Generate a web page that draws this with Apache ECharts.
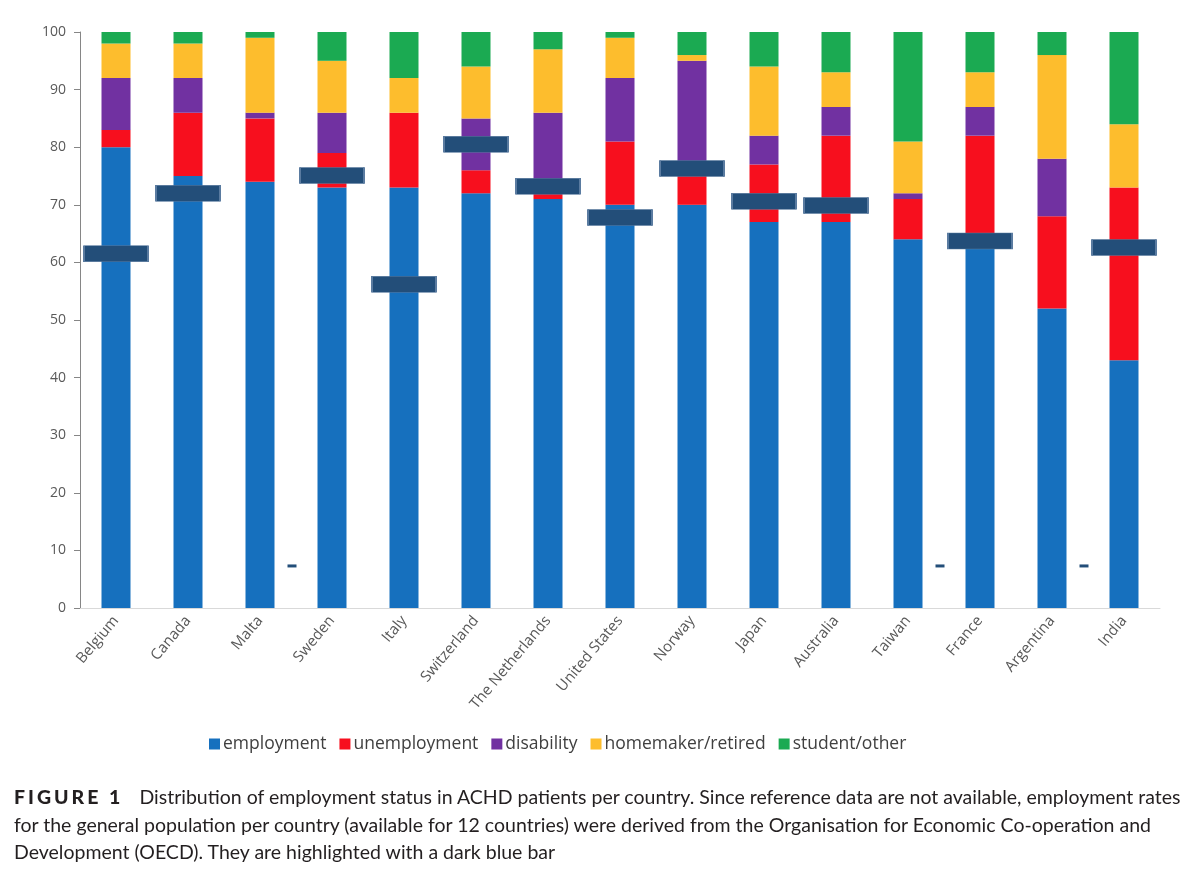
<!DOCTYPE html>
<html>
<head>
<meta charset="utf-8">
<script src="https://cdn.jsdelivr.net/npm/echarts@6/dist/echarts.min.js"></script>
<style>
html,body{margin:0;padding:0;background:#fff;}
#chart{width:1200px;height:876px;position:absolute;left:0;top:0;}
#cap{position:absolute;left:14px;top:783px;width:1186px;font-family:Lato,"Open Sans",sans-serif;font-size:19.5px;line-height:27.5px;color:#231f20;white-space:nowrap;}
#cap b{letter-spacing:3px;margin-right:16px;font-weight:900;}
</style>
</head>
<body>
<div id="chart"></div>
<div id="cap"><b>FIGURE 1</b>Distribution of employment status in ACHD patients per country. Since reference data are not available, employment rates<br>for the general population per country (available for 12 countries) were derived from the Organisation for Economic Co-operation and<br>Development (OECD). They are highlighted with a dark blue bar</div>
<script>
var countries = ['Belgium','Canada','Malta','Sweden','Italy','Switzerland','The Netherlands','United States','Norway','Japan','Australia','Taiwan','France','Argentina','India'];
var employment   = [80, 75, 74, 73, 73, 72, 71, 70, 70, 67, 67, 64, 63, 52, 43];
var unemployment = [ 3, 11, 11,  6, 13,  4,  1, 11,  5, 10, 15,  7, 19, 16, 30];
var disability   = [ 9,  6,  1,  7,  0,  9, 14, 11, 20,  5,  5,  1,  5, 10,  0];
var homemaker    = [ 6,  6, 13,  9,  6,  9, 11,  7,  1, 12,  6,  9,  6, 18, 11];
var student      = [ 2,  2,  1,  5,  8,  6,  3,  1,  4,  6,  7, 19,  7,  4, 16];
// OECD general-population employment rate (null = not available)
var oecd = [61.5, 72.0, null, 75.1, 56.2, 80.5, 73.2, 67.8, 76.3, 70.6, 69.9, null, 63.7, null, 62.6];
// small dash marks shown next to countries without OECD data
var naMarks = [null, null, 7.3, null, null, null, null, null, null, null, null, 7.3, null, 7.3, null];
var yTicks = [0,10,20,30,40,50,60,70,80,90,100];

var colors = ['#1670BE','#F70F1E','#7131A1','#FDBD2D','#1BAA52'];
var names = ['employment','unemployment','disability','homemaker/retired','student/other'];
var vals = [employment, unemployment, disability, homemaker, student];

var series = names.map(function(n,i){
  return {name:n,type:'bar',stack:'all',barWidth:29,data:vals[i],itemStyle:{color:colors[i]},z:2};
});
series.push({name:'OECD',type:'scatter',data:oecd,symbol:'rect',symbolSize:[64,16],
  itemStyle:{color:'#234E79',borderColor:'#5A7BA0',borderWidth:1,opacity:1},z:5,silent:true});
series.push({name:'NA',type:'scatter',data:naMarks,symbol:'rect',symbolSize:[9,3],symbolOffset:[32,0],
  itemStyle:{color:'#234E79',opacity:1},z:5,silent:true});

var chart = echarts.init(document.getElementById('chart'),null,{renderer:'canvas'});
chart.setOption({
  animation:false,
  backgroundColor:'#ffffff',
  textStyle:{fontFamily:'"Open Sans", sans-serif'},
  grid:{left:80,right:40,top:32,bottom:268,containLabel:false},
  legend:{data:names,left:204,top:730,icon:'rect',itemWidth:11,itemHeight:11,itemGap:13,
    textStyle:{fontSize:17.5,color:'#404040',fontFamily:'"Open Sans", sans-serif',padding:[0,0,0,-2]}},
  xAxis:{type:'category',data:countries,boundaryGap:true,
    axisLine:{lineStyle:{color:'#D9D9D9',width:1}},axisTick:{show:false},
    axisLabel:{rotate:50,interval:0,fontSize:15,color:'#595959',margin:10}},
  yAxis:{type:'value',min:0,max:100,interval:10,
    axisLine:{show:true,lineStyle:{color:'#868686'}},
    axisTick:{show:true,length:6,lineStyle:{color:'#868686'}},
    splitLine:{show:false},
    axisLabel:{fontSize:14,color:'#595959',margin:14,
      formatter:function(v){return yTicks.indexOf(v)>=0?String(v):'';}}},
  series:series
});
</script>
</body>
</html>
